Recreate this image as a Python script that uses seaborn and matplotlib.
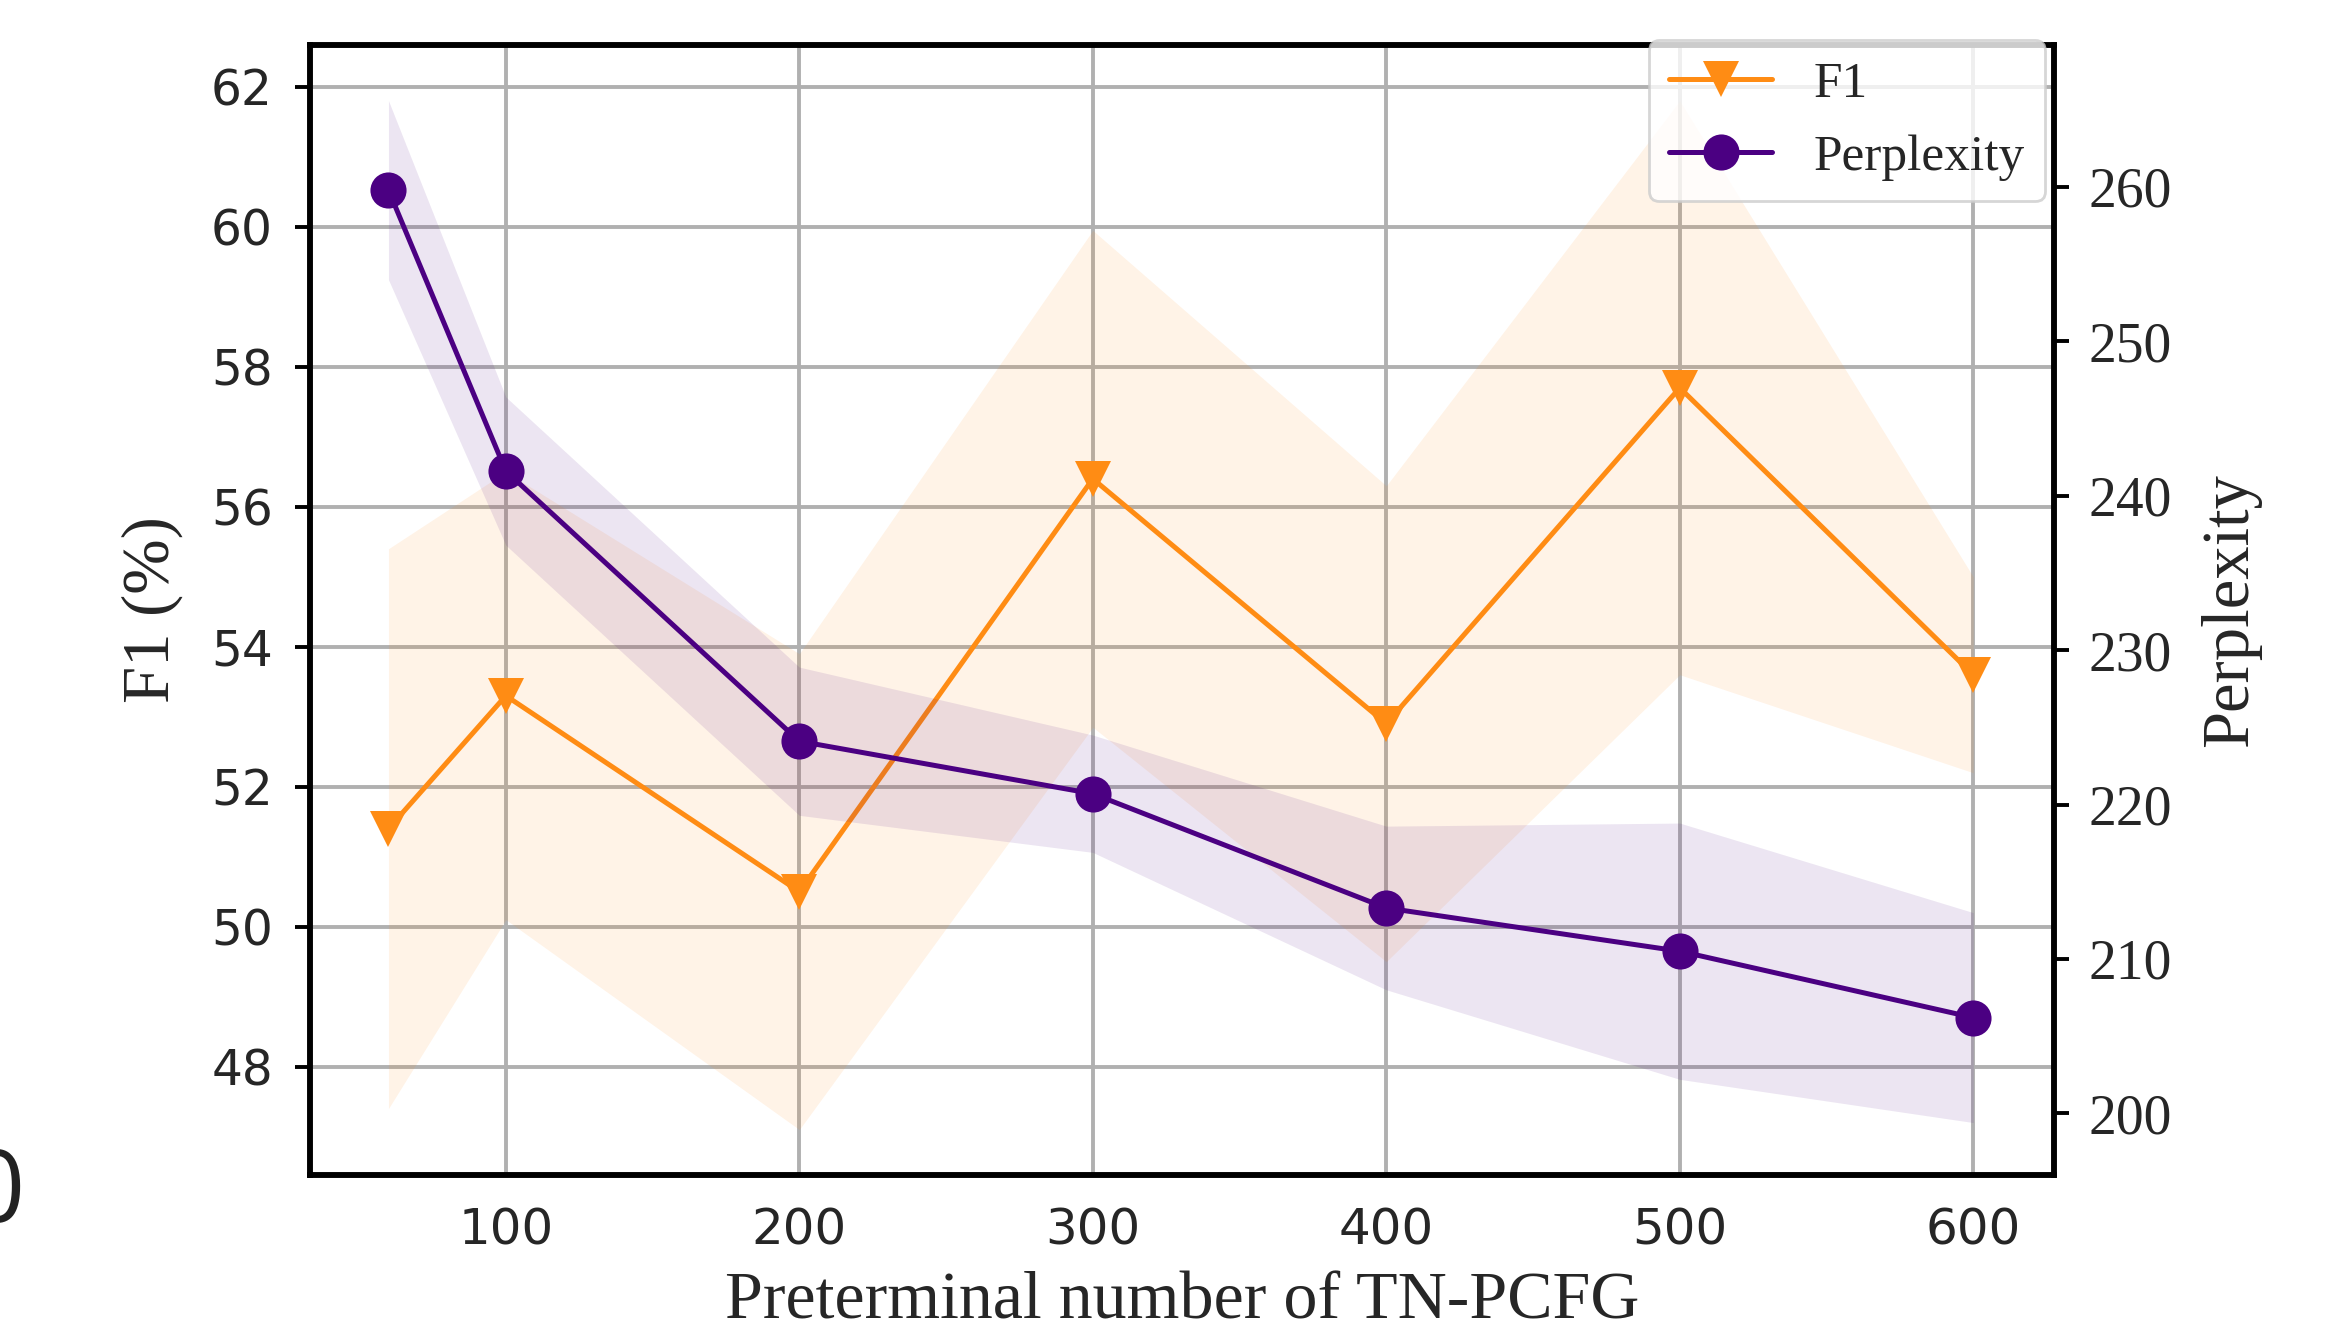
import numpy as np
import pandas as pd
import matplotlib
matplotlib.use("Agg")
import matplotlib.pyplot as plt
import seaborn as sns

# valores
preterminales = [60, 100, 200, 300, 400, 500, 600]
f1_media = [51.4, 53.3, 50.5, 56.4, 52.9, 57.7, 53.6]
f1_std = [4.0, 3.2, 3.4, 3.55, 3.4, 4.1, 1.4]
ppl_media = [259.8, 241.6, 224.1, 220.7, 213.3, 210.5, 206.2]
ppl_std = [5.8, 4.8, 4.8, 3.8, 5.3, 8.3, 6.8]

color_f1 = "#ff8c14"
color_ppl = "#4b0082"

sns.set_style("white")
plt.rcParams["font.family"] = ["DejaVu Sans"]
serif = ["Liberation Serif", "DejaVu Serif"]

df = pd.DataFrame({"x": preterminales, "f1": f1_media, "ppl": ppl_media})
f1_lo = np.array(f1_media) - np.array(f1_std)
f1_hi = np.array(f1_media) + np.array(f1_std)
ppl_lo = np.array(ppl_media) - np.array(ppl_std)
ppl_hi = np.array(ppl_media) + np.array(ppl_std)

fig = plt.figure(figsize=(2339 / 200, 1342 / 200), dpi=200)
ax1 = fig.add_axes([0.1327, 0.1244, 0.878 - 0.1327, 0.9665 - 0.1244])
ax2 = ax1.twinx()

ax1.fill_between(preterminales, f1_lo, f1_hi, color=color_f1, alpha=0.1, linewidth=0)
sns.lineplot(data=df, x="x", y="f1", ax=ax1, color=color_f1, marker="v",
             markersize=13, markeredgewidth=0, linewidth=1.8, label="F1", legend=False)

ax2.fill_between(preterminales, ppl_lo, ppl_hi, color=color_ppl, alpha=0.1, linewidth=0)
sns.lineplot(data=df, x="x", y="ppl", ax=ax2, color=color_ppl, marker="o",
             markersize=13, markeredgewidth=0, linewidth=1.8, label="Perplexity", legend=False)

ax1.set_xlim(33.4, 627.4)
ax1.set_ylim(46.45, 62.6)
ax2.set_ylim(196.0, 269.2)
ax1.set_xticks([100, 200, 300, 400, 500, 600])
ax1.set_yticks([48, 50, 52, 54, 56, 58, 60, 62])
ax2.set_yticks([200, 210, 220, 230, 240, 250, 260])

ax1.grid(True, color="#b0b0b0", linewidth=1.4)
ax1.set_axisbelow(True)

ax1.tick_params(axis="y", labelsize=17.5, length=5.5, width=1.4, pad=8, color="black")
ax1.tick_params(axis="x", labelsize=18, length=5.5, width=1.4, pad=6, color="black")
ax2.tick_params(axis="y", labelsize=20, length=5.5, width=1.4, pad=7, color="black")
for lab in ax2.get_yticklabels():
    lab.set_family(serif)

ax1.set_xlabel("Preterminal number of TN-PCFG", family=serif, fontsize=24.5, labelpad=6)
ax1.set_ylabel("F1 (%)", family=serif, fontsize=24, labelpad=10)
ax2.set_ylabel("Perplexity", family=serif, fontsize=24, labelpad=10)

for ax in (ax1, ax2):
    for s in ax.spines.values():
        s.set_color("black")
        s.set_linewidth(2.0)

h1, l1 = ax1.get_legend_handles_labels()
h2, l2 = ax2.get_legend_handles_labels()
ax2.legend(h1 + h2, l1 + l2, loc="upper right", bbox_to_anchor=(0.995, 1.004),
           borderaxespad=0, prop={"family": serif, "size": 18.5})

# resto de un caracter recortado en el borde izquierdo
fig.text(-0.0135, 0.0894, "0", fontsize=36, color="#222222", family="Open Sans")

fig.savefig("out.png", dpi=200)
